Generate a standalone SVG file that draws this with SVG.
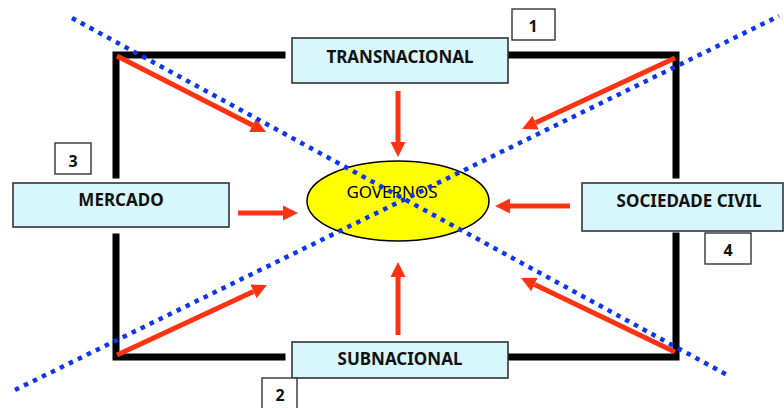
<svg xmlns="http://www.w3.org/2000/svg" width="784" height="408" viewBox="0 0 784 408">
<defs>
<style>
.frame{fill:none;stroke:#000;stroke-width:7;stroke-linecap:square}
.box{fill:#d7f7fc;stroke:#333;stroke-width:1.6}
.num{fill:#fff;stroke:#333;stroke-width:1.4}
.lbl{font-family:"Noto Sans","DejaVu Sans",sans-serif;font-weight:bold;font-size:17px;text-anchor:middle;fill:#111}
.nlbl{font-family:"Noto Sans","DejaVu Sans",sans-serif;font-weight:bold;font-size:16px;text-anchor:middle;fill:#111}
.arr{stroke:#ff3311;stroke-width:5;fill:none;marker-end:url(#ah)}
.dot{stroke:#0d35f0;stroke-width:4.5;stroke-dasharray:4.5 5.5;fill:none}
</style>
<marker id="ah" viewBox="0 -8 16 16" refX="0" refY="0" markerWidth="16" markerHeight="16" markerUnits="userSpaceOnUse" orient="auto">
<path d="M0,-7.5 L15,0 L0,7.5 Z" fill="#ff3311"/>
</marker>
</defs>
<rect width="784" height="408" fill="#fff"/>
<g id="frame">
<path class="frame" d="M282,55 H116 V175 M116,237 V357 H282 M510,55 H676 V175 M676,236 V357 H510"/>
</g>
<g id="governos">
<ellipse cx="398" cy="201" rx="91" ry="40" fill="#ffff00" stroke="#000" stroke-width="1.5"/>
<text x="392" y="198" font-family="'Noto Sans','DejaVu Sans',sans-serif" font-size="17" text-anchor="middle" fill="#000">GOVERNOS</text>
</g>
<g id="transnacional">
<rect class="box" x="292" y="38" width="216" height="45"/>
<text class="lbl" x="400" y="63">TRANSNACIONAL</text>
</g>
<g id="subnacional">
<rect class="box" x="292" y="342" width="216" height="36"/>
<text class="lbl" x="400" y="365">SUBNACIONAL</text>
</g>
<g id="mercado">
<rect class="box" x="13" y="183" width="216" height="44"/>
<text class="lbl" x="121" y="206">MERCADO</text>
</g>
<g id="sociedade">
<rect class="box" x="582" y="183" width="201" height="48"/>
<text class="lbl" x="689" y="207">SOCIEDADE CIVIL</text>
</g>
<g id="n1">
<rect class="num" x="512" y="9" width="43" height="31"/>
<text class="nlbl" x="533" y="32">1</text>
</g>
<g id="n2">
<rect class="num" x="262" y="378" width="35" height="34"/>
<text class="nlbl" x="280" y="401">2</text>
</g>
<g id="n3">
<rect class="num" x="55" y="143" width="36" height="31"/>
<text class="nlbl" x="73" y="167">3</text>
</g>
<g id="n4">
<rect class="num" x="705" y="233" width="46" height="31"/>
<text class="nlbl" x="728" y="256">4</text>
</g>
<g id="connectors">
<line class="arr" x1="398" y1="91" x2="398" y2="142"/>
<line class="arr" x1="398" y1="335" x2="398" y2="277"/>
<line class="arr" x1="238" y1="213" x2="283" y2="213"/>
<line class="arr" x1="570" y1="206" x2="510" y2="206"/>
<line class="arr" x1="117" y1="56" x2="252.6" y2="125.2"/>
<line class="arr" x1="675" y1="58" x2="535.6" y2="122.7"/>
<line class="arr" x1="117" y1="355" x2="253.4" y2="291.4"/>
<line class="arr" x1="675" y1="352" x2="534.5" y2="284.5"/>
<line class="dot" x1="72" y1="18" x2="729" y2="376"/>
<line class="dot" x1="15" y1="390" x2="779" y2="16"/>
</g>
</svg>
